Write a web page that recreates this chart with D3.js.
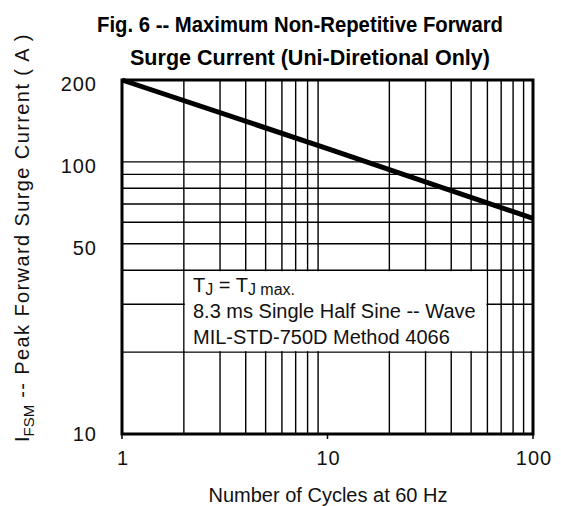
<!DOCTYPE html>
<html><head><meta charset="utf-8">
<script src="https://cdn.jsdelivr.net/npm/d3@7"></script>
<style>html,body{margin:0;padding:0;background:#fff;}svg{display:block;}</style>
</head><body>
<script>
// ---- data ----
const titleLines = ["Fig. 6 -- Maximum Non-Repetitive Forward", "Surge Current (Uni-Diretional Only)"];
const cycles = [1, 10, 100];
const surgeCurrent = [200, 112, 62];
const xGrid = [2,3,4,5,6,7,8,9,20,30,40,50,60,70,80,90];
const yGrid = [20,30,40,50,60,70,80,90,100];
const xTickLabels = [1, 10, 100];
const yTickLabels = [200, 100, 50, 10];
const noteLines = ["8.3 ms Single Half Sine -- Wave", "MIL-STD-750D Method 4066"];
const noteBox = {x0: 2, x1: 60, y0: 20, y1: 40};

const W = 561, H = 506;
const svg = d3.select("body").append("svg").attr("width", W).attr("height", H)
  .style("font-family", "'Liberation Sans', Arial, sans-serif");
svg.append("rect").attr("width", W).attr("height", H).attr("fill", "#fff");

const x = d3.scaleLog().domain([1, 100]).range([122, 533]);
const y = d3.scaleLog().domain([10, 200]).range([434, 80]);

// grid
const g = svg.append("g");
g.selectAll(".vx").data(xGrid).join("line")
  .attr("x1", d => x(d)).attr("x2", d => x(d))
  .attr("y1", y(200)).attr("y2", y(10))
  .attr("stroke", "#000").attr("stroke-width", 1.4);
g.selectAll(".hy").data(yGrid).join("line")
  .attr("x1", x(1)).attr("x2", x(100))
  .attr("y1", d => y(d)).attr("y2", d => y(d))
  .attr("stroke", "#000").attr("stroke-width", 1.4);

// note box (white fill over grid)
svg.append("rect")
  .attr("x", x(noteBox.x0) + 1).attr("y", y(noteBox.y1) + 1)
  .attr("width", x(noteBox.x1) - x(noteBox.x0) - 2)
  .attr("height", y(noteBox.y0) - y(noteBox.y1) - 2)
  .attr("fill", "#fff");

// border
svg.append("rect").attr("x", x(1)).attr("y", y(200))
  .attr("width", x(100) - x(1)).attr("height", y(10) - y(200))
  .attr("fill", "none").attr("stroke", "#000").attr("stroke-width", 3);

// x ticks
svg.selectAll(".xt").data(xTickLabels).join("line")
  .attr("x1", d => x(d)).attr("x2", d => x(d))
  .attr("y1", y(10)).attr("y2", y(10) + 5)
  .attr("stroke", "#000").attr("stroke-width", 1.5);

// data line
const pts = cycles.map((c, i) => [c, surgeCurrent[i]]);
svg.append("path").datum(pts)
  .attr("d", d3.line().x(d => x(d[0])).y(d => y(d[1])))
  .attr("fill", "none").attr("stroke", "#000").attr("stroke-width", 5)
  .attr("stroke-linecap", "butt");

// tick labels
svg.selectAll(".xl").data(xTickLabels).join("text")
  .attr("x", d => x(d) + 1).attr("y", 465)
  .attr("text-anchor", "middle").attr("font-size", 20).attr("letter-spacing", 1)
  .attr("fill", "#111").text(d => d);
svg.selectAll(".yl").data(yTickLabels).join("text")
  .attr("x", 97).attr("y", d => y(d) + 7 + (d === 10 ? 0 : 4))
  .attr("text-anchor", "end").attr("font-size", 20).attr("letter-spacing", 1)
  .attr("fill", "#111").text(d => d);

// axis titles
svg.append("text").attr("x", 328).attr("y", 502).attr("text-anchor", "middle")
  .attr("font-size", 20).attr("textLength", 239).attr("lengthAdjust", "spacingAndGlyphs")
  .attr("fill", "#111").text("Number of Cycles at 60 Hz");

const yt = svg.append("text").attr("transform", "translate(29,442) rotate(-90)")
  .attr("font-size", 20).attr("fill", "#111");
yt.append("tspan").text("I");
yt.append("tspan").attr("font-size", 15).attr("dy", 5).text("FSM");
yt.append("tspan").attr("dy", -5).attr("letter-spacing", 1.4).text(" -- Peak Forward Surge Current ( A )");

// title
svg.selectAll(".title").data(titleLines).join("text")
  .attr("x", (d, i) => i === 0 ? 300 : 310)
  .attr("y", (d, i) => i === 0 ? 32 : 65)
  .attr("text-anchor", "middle")
  .attr("font-family", "'Liberation Sans Narrow', 'Arial Narrow', 'Liberation Sans', Arial, sans-serif")
  .attr("font-weight", "bold").attr("font-size", 22)
  .attr("textLength", (d, i) => i === 0 ? 406 : 360)
  .attr("lengthAdjust", "spacingAndGlyphs")
  .attr("fill", "#000").text(d => d);

// note text
const nt = svg.append("text").attr("x", 193).attr("y", 292).attr("font-size", 20).attr("fill", "#111");
nt.append("tspan").text("T");
nt.append("tspan").attr("font-size", 16).attr("dy", 3).text("J");
nt.append("tspan").attr("dy", -3).text(" = T");
nt.append("tspan").attr("font-size", 16).attr("dy", 3).text("J max.");
svg.selectAll(".note").data(noteLines).join("text")
  .attr("x", 193).attr("y", (d, i) => 318 + i * 25.5)
  .attr("font-size", 20).attr("fill", "#111").text(d => d);
</script>
</body></html>
